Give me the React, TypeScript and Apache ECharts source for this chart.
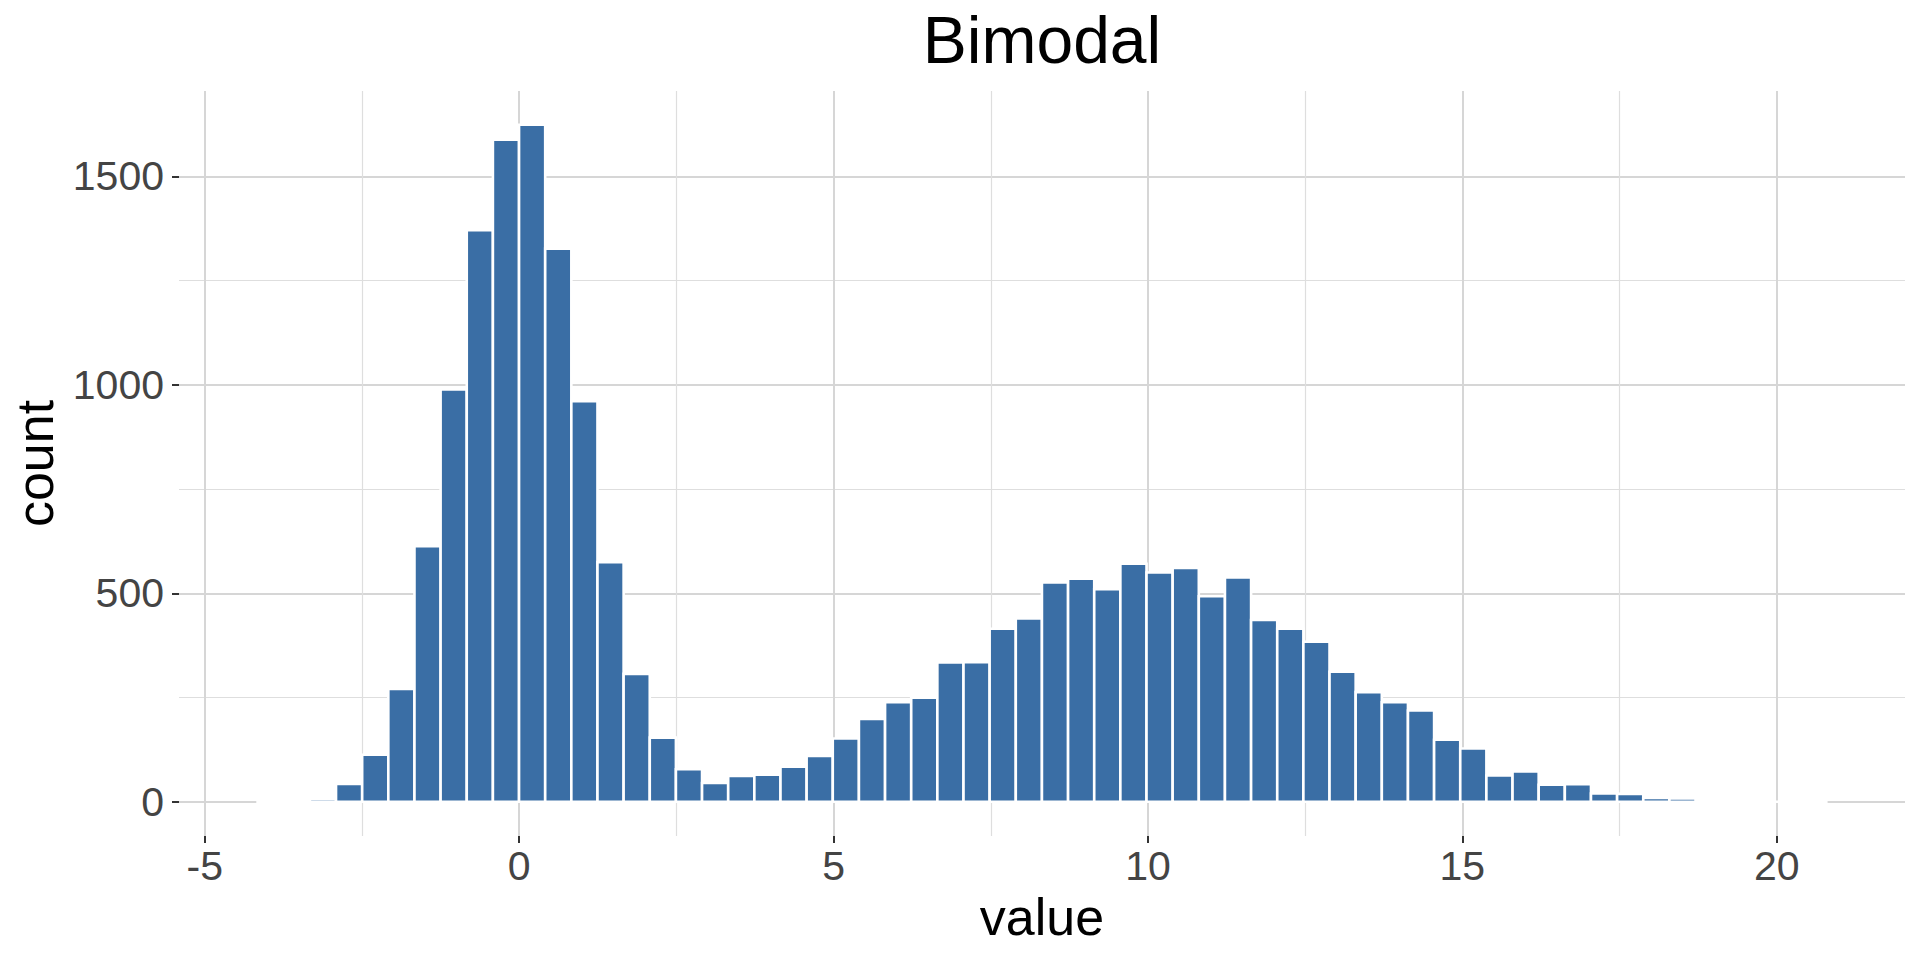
import React, { useEffect, useRef } from "react";
import * as echarts from "echarts";

// Histogram definition (60 bins of equal width)
const BIN_START = -4.16;
const BIN_WIDTH = 0.4158;
const COUNTS = [
  1, 0, 7, 43, 113, 271, 613, 989, 1371, 1588,
  1624, 1327, 961, 575, 307, 154, 78, 45, 62, 65,
  84, 110, 152, 199, 239, 250, 334, 335, 415, 440,
  526, 535, 510, 571, 550, 561, 493, 538, 436, 415,
  384, 312, 263, 239, 219, 149, 128, 63, 73, 41,
  42, 20, 19, 9, 8, 0, 1, 0, 0, 1,
];

const TITLE = "Bimodal";
const X_NAME = "value";
const Y_NAME = "count";
const X_RANGE = [-5.41, 22.04];
const Y_RANGE = [-82, 1705];

const FONT = "'Liberation Sans', Arial, Helvetica, sans-serif";
const BAR_FILL = "#3A6EA5";

export default function App() {
  const ref = useRef<HTMLDivElement | null>(null);

  useEffect(() => {
    if (!ref.current) return;
    const chart = echarts.init(ref.current, undefined, { renderer: "svg" });

    const data = COUNTS.map((c, i) => [
      BIN_START + i * BIN_WIDTH,
      BIN_START + (i + 1) * BIN_WIDTH,
      c,
    ]);

    const option: any = {
      animation: false,
      backgroundColor: "#ffffff",
      textStyle: { fontFamily: FONT },
      title: {
        text: TITLE,
        left: 1042,
        top: 7,
        padding: 0,
        textAlign: "center",
        textStyle: { fontSize: 66, fontWeight: "normal", color: "#000000", fontFamily: FONT },
      },
      grid: { left: 179, right: 15, top: 91, bottom: 124, containLabel: false },
      xAxis: {
        type: "value",
        min: X_RANGE[0],
        max: X_RANGE[1],
        minInterval: 5,
        maxInterval: 5,
        name: X_NAME,
        nameLocation: "middle",
        nameGap: 55,
        nameTextStyle: { fontSize: 52, color: "#000000", fontFamily: FONT },
        axisLine: { show: false, onZero: false },
        axisTick: { show: true, length: 7, lineStyle: { color: "#333333", width: 2 } },
        axisLabel: {
          show: true,
          margin: 9,
          fontSize: 41,
          color: "#444444",
          fontFamily: FONT,
          showMinLabel: false,
          showMaxLabel: false,
          formatter: (v: number) => String(v),
        },
        splitLine: {
          show: true,
          showMinLine: false,
          showMaxLine: false,
          lineStyle: { color: "#D6D6D6", width: 2 },
        },
        minorTick: { show: false, splitNumber: 2 },
        minorSplitLine: { show: true, lineStyle: { color: "#DEDEDE", width: 1.2 } },
      },
      yAxis: {
        type: "value",
        min: Y_RANGE[0],
        max: Y_RANGE[1],
        minInterval: 500,
        maxInterval: 500,
        name: Y_NAME,
        nameLocation: "middle",
        nameGap: 118,
        nameTextStyle: { fontSize: 52, color: "#000000", fontFamily: FONT },
        axisLine: { show: false, onZero: false },
        axisTick: { show: true, length: 7, lineStyle: { color: "#333333", width: 2 } },
        axisLabel: {
          show: true,
          margin: 15,
          fontSize: 41,
          color: "#444444",
          fontFamily: FONT,
          showMinLabel: false,
          showMaxLabel: false,
          formatter: (v: number) => String(v),
        },
        splitLine: {
          show: true,
          showMinLine: false,
          showMaxLine: false,
          lineStyle: { color: "#D6D6D6", width: 2 },
        },
        minorTick: { show: false, splitNumber: 2 },
        minorSplitLine: { show: true, lineStyle: { color: "#DEDEDE", width: 1.2 } },
      },
      series: [
        {
          type: "custom",
          encode: { x: [0, 1], y: 2 },
          data,
          renderItem: (params: any, api: any) => {
            const x0 = api.value(0);
            const x1 = api.value(1);
            const c = api.value(2);
            const pTop = api.coord([x0, c]);
            const pBot = api.coord([x1, 0]);
            return {
              type: "rect",
              shape: {
                x: pTop[0],
                y: pTop[1],
                width: pBot[0] - pTop[0],
                height: pBot[1] - pTop[1],
              },
              style: { fill: BAR_FILL, stroke: "#ffffff", lineWidth: 2.6 },
            };
          },
        },
      ],
    };

    chart.setOption(option);
    return () => {
      chart.dispose();
    };
  }, []);

  return (
    <div
      ref={ref}
      style={{ position: "fixed", left: 0, top: 0, width: "1920px", height: "960px", background: "#fff" }}
    />
  );
}
